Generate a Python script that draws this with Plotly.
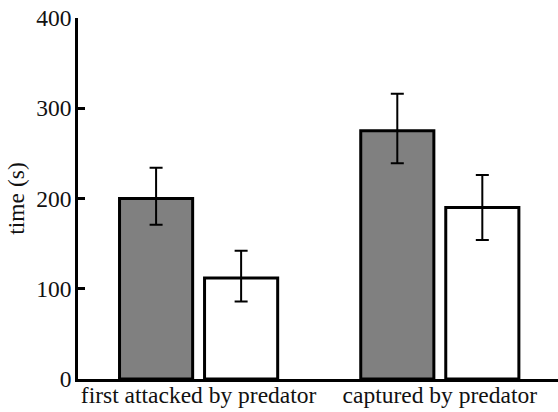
import plotly.graph_objects as go

categories = ["first attacked by predator", "captured by predator"]
gray_values = [200, 275]
gray_err_plus = [34, 41]
gray_err_minus = [29, 36]
white_values = [112, 190]
white_err_plus = [30, 36]
white_err_minus = [26, 36]
y_ticks = [0, 100, 200, 300, 400]

FONT = "Liberation Serif, Times New Roman, serif"
TXT = "#111111"

fig = go.Figure()
fig.add_trace(go.Bar(
    x=categories, y=gray_values, name="gray",
    marker=dict(color="#808080", line=dict(color="black", width=3)),
    error_y=dict(type="data", symmetric=False, array=gray_err_plus,
                 arrayminus=gray_err_minus, color="black", thickness=2, width=6.5),
))
fig.add_trace(go.Bar(
    x=categories, y=white_values, name="white",
    marker=dict(color="white", line=dict(color="black", width=3)),
    error_y=dict(type="data", symmetric=False, array=white_err_plus,
                 arrayminus=white_err_minus, color="black", thickness=2, width=6.5),
))

fig.update_layout(
    width=558, height=412,
    margin=dict(l=78, r=0, t=18, b=33, autoexpand=False),
    paper_bgcolor="white", plot_bgcolor="white",
    barmode="group", bargap=0.295, bargroupgap=0.14,
    showlegend=False,
    font=dict(family=FONT, size=23.5, color=TXT),
)
fig.update_xaxes(
    type="category", range=[-0.5, 1.49], automargin=False,
    showline=True, linecolor="black", linewidth=2.5,
    ticks="", showgrid=False, zeroline=False,
    ticklabelstandoff=-7,
    tickfont=dict(family=FONT, size=23.5, color=TXT),
)
fig.update_yaxes(
    range=[0, 400], tickvals=y_ticks, automargin=False,
    showline=True, linecolor="black", linewidth=2.5,
    ticks="inside", ticklen=7, tickwidth=2.5, tickcolor="black",
    showgrid=False, zeroline=False,
    ticklabelstandoff=-1,
    title=dict(text="time (s)", standoff=6, font=dict(family=FONT, size=23.5, color=TXT)),
    tickfont=dict(family=FONT, size=23.5, color=TXT),
)

fig.write_html("out.html", config={"displayModeBar": False},
               post_script="document.body.style.margin='0';")
